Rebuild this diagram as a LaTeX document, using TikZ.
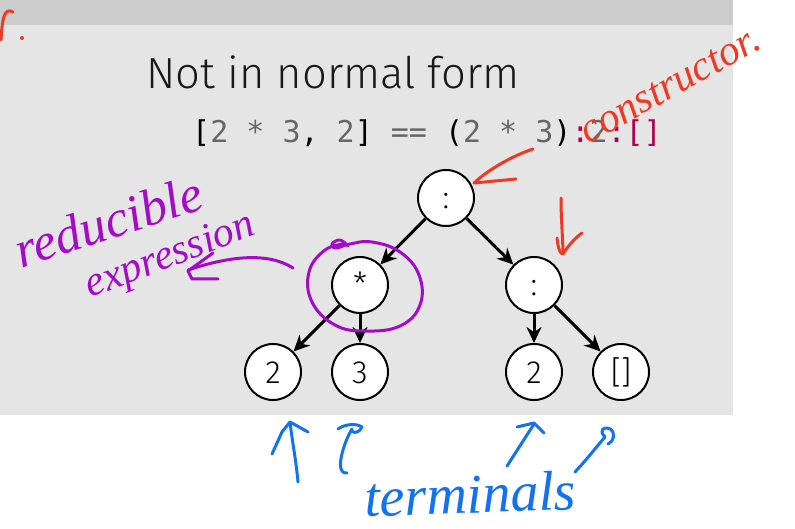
\documentclass[tikz,border=0pt]{standalone}
\usepackage{fontspec}
\usetikzlibrary{arrows.meta}
\IfFontExistsTF{Fira Sans Light}{\newfontfamily\slidefont{Fira Sans Light}}{\newfontfamily\slidefont{Fira Sans}}
\newfontfamily\codefont{DejaVu Sans Mono}
\newfontfamily\handfont{Liberation Serif}
\definecolor{slidebg}{HTML}{E5E5E5}
\definecolor{barbg}{HTML}{CCCCCC}
\definecolor{codegray}{HTML}{666666}
\definecolor{codered}{HTML}{B3004B}
\definecolor{inkred}{HTML}{EE3A24}
\definecolor{inkpurple}{HTML}{A30BC8}
\definecolor{inkblue}{HTML}{1372F0}
\tikzset{
  treenode/.style={circle, draw=black, line width=2pt, fill=white, minimum size=56pt,
    inner sep=0pt, text height=22pt, text depth=0pt, font=\slidefont\fontsize{32}{34}\selectfont},
  treeedge/.style={line width=3pt, -{Stealth[length=16pt,width=15pt]}},
  ink/.style={line width=3pt, line cap=round, line join=round},
  hand/.style={inner sep=0pt, anchor=base}
}
\begin{document}
\begin{tikzpicture}[x=1pt,y=-1pt]
\useasboundingbox (0,0) rectangle (795,529);
\fill[white] (0,0) rectangle (795,529);
\fill[barbg] (0,0) rectangle (733,25);
\fill[slidebg] (0,25) rectangle (733,415);

\node[anchor=base, inner sep=0pt, font=\slidefont\fontsize{43.5}{46}\selectfont, text=black!90] (title) at (333,89) {Not in normal form};
\node[anchor=base, inner sep=0pt, font=\codefont\fontsize{30}{32}\selectfont] (code) at (427,143)
  {[\textcolor{codegray}{2 * 3}, \textcolor{codegray}{2}] \textcolor{codegray}{==} (\textcolor{codegray}{2 * 3})\textcolor{codered}{:}\textcolor{codegray}{2}\textcolor{codered}{:[]}};

\node[treenode] (root) at (446,198) {:};
\node[treenode] (mul) at (360,285) {*};
\node[treenode] (cons) at (534,285) {:};
\node[treenode] (two) at (273,372) {2};
\node[treenode] (three) at (360,372) {3};
\node[treenode] (twob) at (534,372) {2};
\node[treenode] (nil) at (621,372) {[]};

\draw[treeedge] (root) -- (mul);
\draw[treeedge] (root) -- (cons);
\draw[treeedge] (mul) -- (two);
\draw[treeedge] (mul) -- (three);
\draw[treeedge] (cons) -- (twob);
\draw[treeedge] (cons) -- (nil);

% red annotations
\draw[ink, inkred] (1,40) .. controls (2,24) and (3,6) .. (13,12);
\fill[inkred] (22,38) circle (2pt);
\node[hand, rotate=29, text=inkred, font=\handfont\itshape\fontsize{42}{44}\selectfont] (constr) at (676,96) {constructor.};
\coordinate (ra) at (533,149);
\coordinate (rb) at (516,179);
\draw[ink, inkred] (ra) .. controls (515,155) and (490,168) .. (474,183) -- (rb);
\coordinate (rd1) at (561,198);
\draw[ink, inkred] (rd1) .. controls (561,220) and (563,240) .. (563,254);
\draw[ink, inkred] (557,238) .. controls (558,248) and (560,254) .. (563,254) .. controls (568,246) and (575,238) .. (582,233);

% purple annotations
\draw[ink, inkpurple] plot[smooth, tension=0.7] coordinates {(348,246) (340,240) (332,244) (336,248) (350,244) (372,242) (400,252) (419,275) (420,305) (400,326) (365,331) (335,325) (312,302) (309,272) (325,250) (345,244)};
\node[hand, rotate=18, text=inkpurple, font=\handfont\itshape\fontsize{52}{54}\selectfont] (redu) at (114,238) {reducible};
\node[hand, rotate=21, text=inkpurple, font=\handfont\itshape\fontsize{42}{44}\selectfont] (expr) at (174,266) {expression};
\draw[ink, inkpurple] (293,268) .. controls (268,252) and (230,256) .. (188,270);
\draw[ink, inkpurple] (213,253) -- (188,271) -- (192,279) -- (218,279);

% blue annotations
\draw[ink, inkblue] (272,454) -- (282,432) -- (290,422) -- (308,432);
\draw[ink, inkblue] (290,422) .. controls (292,440) and (296,460) .. (298,482);
\draw[ink, inkblue] (347,473) .. controls (338,474) and (340,460) .. (343,450) .. controls (346,440) and (349,434) .. (352,429);
\draw[ink, inkblue] (338,429) .. controls (345,424) and (356,423) .. (362,427) .. controls (360,432) and (354,434) .. (352,431);
\draw[ink, inkblue] (507,466) -- (534,424);
\draw[ink, inkblue] (517,427) -- (534,423) -- (544,433);
\draw[ink, inkblue] (575,472) .. controls (588,458) and (598,445) .. (605,437);
\draw[ink, inkblue] (605,437) .. controls (598,430) and (604,426) .. (610,429) .. controls (616,432) and (614,442) .. (608,444);
\node[hand, rotate=2, text=inkblue, font=\handfont\itshape\fontsize{56}{58}\selectfont] (term) at (471,513) {terminals};
\end{tikzpicture}
\end{document}
